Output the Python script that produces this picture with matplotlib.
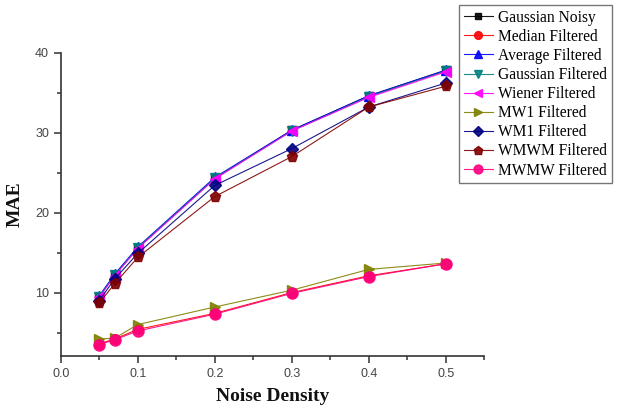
import matplotlib
matplotlib.use("Agg")
import matplotlib.pyplot as plt
from matplotlib.ticker import MultipleLocator

noise_density = [0.05, 0.07, 0.1, 0.2, 0.3, 0.4, 0.5]

gaussian_noisy = [9.5, 12.2, 15.6, 24.3, 30.3, 34.6, 37.8]
median_filtered = [3.6, 4.2, 5.4, 7.4, 10.0, 12.1, 13.6]
average_filtered = [9.6, 12.3, 15.7, 24.4, 30.3, 34.6, 37.8]
gaussian_filtered = [9.5, 12.2, 15.6, 24.3, 30.2, 34.5, 37.7]
wiener_filtered = [9.4, 12.1, 15.5, 24.2, 30.2, 34.4, 37.6]
mw1_filtered = [4.2, 4.3, 6.0, 8.2, 10.3, 12.9, 13.7]
wm1_filtered = [9.0, 11.7, 14.9, 23.4, 28.0, 33.2, 36.2]
wmwm_filtered = [8.7, 11.1, 14.4, 22.0, 27.0, 33.2, 35.8]
mwmw_filtered = [3.5, 4.1, 5.2, 7.3, 9.9, 12.0, 13.6]

labels = ["Gaussian Noisy", "Median Filtered", "Average Filtered",
          "Gaussian Filtered", "Wiener Filtered", "MW1 Filtered",
          "WM1 Filtered", "WMWM Filtered", "MWMW Filtered"]
series = [gaussian_noisy, median_filtered, average_filtered, gaussian_filtered,
          wiener_filtered, mw1_filtered, wm1_filtered, wmwm_filtered, mwmw_filtered]
colors = ["#000000", "#FF0000", "#0000FF", "#008080", "#FF00FF",
          "#808000", "#000080", "#800000", "#FF0080"]
markers = ["s", "o", "^", "v", "<", ">", "D", "p", "o"]
msizes = [6, 7, 7, 7, 7, 7, 6, 8, 8]

fig = plt.figure(figsize=(6.2, 4.08), dpi=100)
ax = fig.add_axes([0.098, 0.128, 0.683, 0.743])

lines = []
for y, lab, c, m, ms in zip(series, labels, colors, markers, msizes):
    ln, = ax.plot(noise_density, y, color=c, marker=m, markersize=ms,
                  linewidth=0.8, label=lab, alpha=0.9)
    lines.append(ln)

ax.set_xlim(0.0, 0.55)
ax.set_ylim(2.1, 40)
ax.xaxis.set_major_locator(MultipleLocator(0.1))
ax.xaxis.set_minor_locator(MultipleLocator(0.05))
ax.yaxis.set_major_locator(MultipleLocator(10))
ax.yaxis.set_minor_locator(MultipleLocator(5))
ax.spines['top'].set_visible(False)
ax.spines['right'].set_visible(False)
for s in ['left', 'bottom']:
    ax.spines[s].set_color('#333333')
    ax.spines[s].set_linewidth(1.2)
ax.tick_params(which='major', direction='out', length=5, width=1.1,
               colors='#333333', labelsize=9, labelcolor='#444444')
ax.tick_params(which='minor', direction='out', length=3, width=1.1, colors='#333333')
for t in ax.get_xticklabels() + ax.get_yticklabels():
    t.set_family('Liberation Sans')
ax.xaxis.set_major_formatter(plt.FuncFormatter(lambda v, p: f"{v:.1f}"))
ax.yaxis.set_major_formatter(plt.FuncFormatter(lambda v, p: f"{v:.0f}"))

ax.set_xlabel("Noise Density", fontfamily='Liberation Serif', fontweight='bold',
              fontsize=14, color='#111111', labelpad=6)
ax.set_ylabel("MAE", fontfamily='Liberation Serif', fontweight='bold',
              fontsize=14, color='#111111', labelpad=8)

leg = fig.legend(handles=lines, loc='upper left',
                 bbox_to_anchor=(459 / 620, 1 - 5 / 408),
                 prop={'family': 'Liberation Serif', 'size': 11.2},
                 frameon=True, fancybox=False, framealpha=1,
                 edgecolor='#777777', labelspacing=0.2, handlelength=1.9,
                 handletextpad=0.3, borderpad=0.3, borderaxespad=0.0,
                 markerscale=0.8)
leg.get_frame().set_linewidth(1.0)

fig.savefig("out.png", dpi=100)
